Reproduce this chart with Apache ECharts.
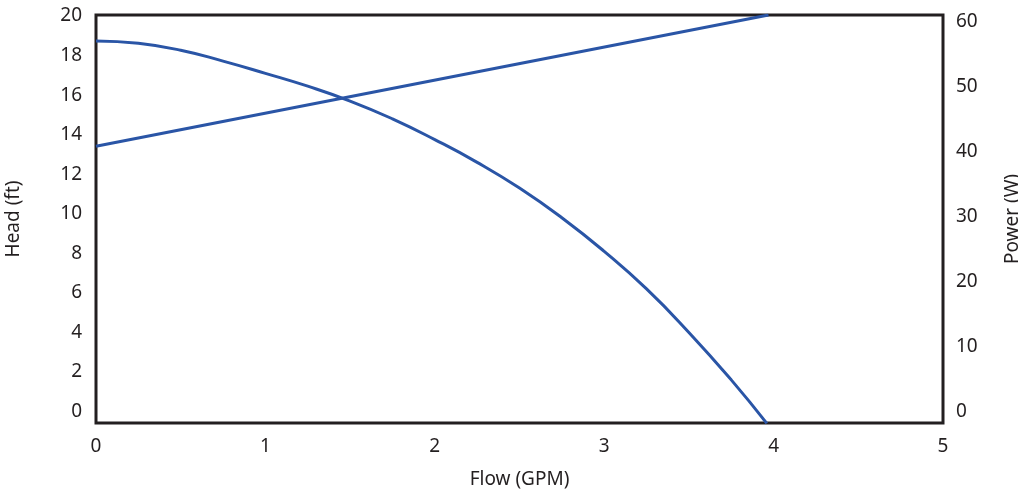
<!DOCTYPE html>
<html>
<head>
<meta charset="utf-8">
<script src="https://cdn.jsdelivr.net/npm/echarts@6/dist/echarts.min.js"></script>
<style>html,body{margin:0;padding:0;background:#fff}#c{width:1018px;height:493px}</style>
</head>
<body>
<div id="c"></div>
<script>
// Head curve (Flow GPM, Head ft)
const headFlow = [0, 0.25, 0.5, 0.75, 1.0, 1.25, 1.5, 1.75, 2.0, 2.25, 2.5, 2.75, 3.0, 3.25, 3.5, 3.75, 3.96];
const headValues = [18.74, 18.62, 18.27, 17.72, 17.1, 16.45, 15.7, 14.8, 13.75, 12.6, 11.3, 9.8, 8.1, 6.2, 4.0, 1.6, -0.6];
// Power line (Flow GPM, Power W)
const powerFlow = [0, 3.97];
const powerValues = [40.8, 61];
// Tick labels
const flowTicks = [0, 1, 2, 3, 4, 5];
const headTicks = [0, 2, 4, 6, 8, 10, 12, 14, 16, 18, 20];
const powerTicks = [0, 10, 20, 30, 40, 50, 60];

const font = '"Noto Sans", sans-serif';
const txt = '#231f20';
const blue = '#2a55a6';

const chart = echarts.init(document.getElementById('c'));
chart.setOption({
  animation: false,
  grid: { left: 96, right: 75, top: 15, bottom: 70, containLabel: false, outerBoundsMode: 'none',
          show: true, borderColor: '#231f20', borderWidth: 3, backgroundColor: 'transparent' },
  xAxis: {
    type: 'value', min: 0, max: 5, interval: 1,
    name: 'Flow (GPM)', nameLocation: 'middle', nameGap: 47,
    nameTextStyle: { fontFamily: font, fontSize: 19, color: txt },
    axisLine: { show: false }, axisTick: { show: false }, splitLine: { show: false },
    axisLabel: { fontFamily: font, fontSize: 19, color: txt, margin: 14, customValues: flowTicks }
  },
  yAxis: [{
    type: 'value', min: -0.58, max: 20.05,
    name: 'Head (ft)', nameLocation: 'middle', nameGap: 73,
    nameTextStyle: { fontFamily: font, fontSize: 19, color: txt },
    axisLine: { show: false }, axisTick: { show: false }, splitLine: { show: false },
    axisLabel: { fontFamily: font, fontSize: 19, color: txt, margin: 14, customValues: headTicks }
  }, {
    type: 'value', min: -1.77, max: 61, position: 'right',
    name: 'Power (W)', nameLocation: 'middle', nameGap: 60,
    nameTextStyle: { fontFamily: font, fontSize: 19, color: txt },
    axisLine: { show: false }, axisTick: { show: false }, splitLine: { show: false },
    axisLabel: { fontFamily: font, fontSize: 19, color: txt, margin: 13, customValues: powerTicks }
  }],
  series: [{
    type: 'line', yAxisIndex: 0, smooth: true, showSymbol: false,
    lineStyle: { color: blue, width: 3 },
    data: headFlow.map((f, i) => [f, headValues[i]])
  }, {
    type: 'line', yAxisIndex: 1, showSymbol: false,
    lineStyle: { color: blue, width: 3 },
    data: powerFlow.map((f, i) => [f, powerValues[i]])
  }]
});
</script>
</body>
</html>
